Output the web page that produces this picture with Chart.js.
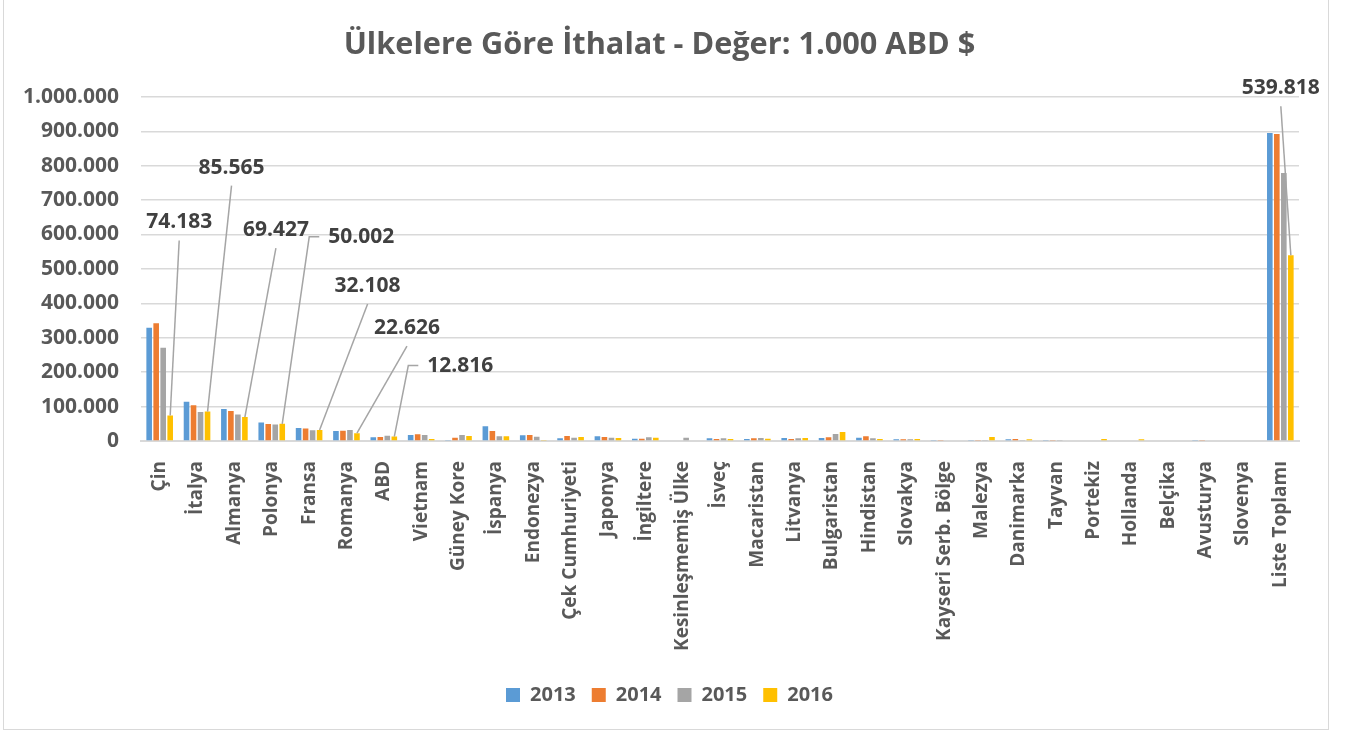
<!DOCTYPE html>
<html>
<head>
<meta charset="utf-8">
<script src="https://cdn.jsdelivr.net/npm/chart.js@4.4.1/dist/chart.umd.min.js"></script>
<style>
  html, body { margin: 0; padding: 0; background: #fff; }
  #wrap { position: relative; width: 1347px; height: 733px; }
  #frame { position: absolute; left: 3px; top: -2px; width: 1324px; height: 730px; border: 1.5px solid #d9d9d9; pointer-events: none; }
</style>
</head>
<body>
<div id="wrap">
  <canvas id="importChart" width="1347" height="733"></canvas>
  <div id="frame"></div>
</div>
<script>
// Data (1.000 ABD $)
const categories = ['Çin', 'İtalya', 'Almanya', 'Polonya', 'Fransa', 'Romanya', 'ABD', 'Vietnam', 'Güney Kore', 'İspanya',
  'Endonezya', 'Çek Cumhuriyeti', 'Japonya', 'İngiltere', 'Kesinleşmemiş Ülke', 'İsveç', 'Macaristan', 'Litvanya',
  'Bulgaristan', 'Hindistan', 'Slovakya', 'Kayseri Serb. Bölge', 'Malezya', 'Danimarka', 'Tayvan', 'Portekiz',
  'Hollanda', 'Belçika', 'Avusturya', 'Slovenya', 'Liste Toplamı'];

const years = ['2013', '2014', '2015', '2016'];

const v2013 = [329000, 114000, 93000, 54000, 38000, 29000, 10700, 17500, 2900, 42800, 16500, 7800, 13600, 6800, 0,
  7800, 5800, 8700, 8700, 9700, 4900, 2900, 2900, 4900, 2900, 1900, 1900, 1900, 2900, 0, 895000];
const v2014 = [342000, 104000, 87500, 49500, 36000, 30000, 11700, 19400, 9700, 29000, 17500, 14600, 11700, 6800, 0,
  5800, 7800, 5800, 10700, 13600, 4900, 2900, 2900, 5800, 2900, 1900, 1900, 0, 2900, 0, 892000];
const v2015 = [271000, 84000, 77000, 47600, 31000, 32000, 15500, 17500, 17500, 13600, 12600, 9700, 9700, 10700, 9700,
  7800, 8700, 7800, 20400, 7800, 4900, 0, 2900, 2900, 2900, 1900, 1900, 1900, 0, 1900, 779000];
const v2016 = [74183, 85565, 69427, 50002, 32108, 22626, 12816, 5800, 14600, 13600, 2900, 11700, 8700, 9700, 0,
  5800, 6800, 8700, 26200, 5800, 5800, 0, 11700, 4900, 0, 5800, 4900, 1900, 0, 0, 539818];

const yTicks = [0, 100000, 200000, 300000, 400000, 500000, 600000, 700000, 800000, 900000, 1000000];

// Which 2016 bars carry a callout label
const labelled = [0, 1, 2, 3, 4, 5, 6, 30];

const colors = ['#5B9BD5', '#ED7D31', '#A5A5A5', '#FFC000'];
const textColor = '#595959';

const fmt = v => String(Math.round(v)).replace(/\B(?=(\d{3})+(?!\d))/g, '.');

// Callout placement relative to bar top (pixels); elbow = short horizontal tick before label
const calloutStyle = {
  0: { dx: 9, dy: -193 },
  1: { dx: 24, dy: -244 },
  2: { dx: 31, dy: -187 },
  3: { dx: 79, dy: -187, elbow: true },
  4: { dx: 48, dy: -144 },
  5: { dx: 50, dy: -105 },
  6: { dx: 66, dy: -71, elbow: true },
  30: { dx: -10, dy: -167 }
};

const calloutPlugin = {
  id: 'callouts',
  afterLayout(chart) {
    // legend sits a little right of centre in the original
    chart.legend.left += 10;
    chart.legend.right += 10;
  },
  afterDatasetsDraw(chart) {
    const ctx = chart.ctx;
    const meta = chart.getDatasetMeta(3);
    ctx.save();
    ctx.font = 'bold 21px "Open Sans"';
    ctx.textAlign = 'center';
    ctx.textBaseline = 'middle';
    labelled.forEach(i => {
      const bar = meta.data[i];
      const st = calloutStyle[i];
      const txt = fmt(v2016[i]);
      const lx = bar.x + st.dx, ly = bar.y + st.dy;
      const w = ctx.measureText(txt).width;
      ctx.strokeStyle = '#A5A5A5';
      ctx.lineWidth = 1.5;
      ctx.beginPath();
      ctx.moveTo(bar.x, bar.y);
      if (st.elbow) {
        const left = lx - w / 2;
        ctx.lineTo(left - 19, ly);
        ctx.lineTo(left - 9, ly);
      } else {
        ctx.lineTo(lx, ly + 18);
      }
      ctx.stroke();
      ctx.fillStyle = '#404040';
      ctx.fillText(txt, lx, ly);
    });
    ctx.restore();
  }
};

const ctx = document.getElementById('importChart').getContext('2d');
const importChart = new Chart(ctx, {
  type: 'bar',
  data: {
    labels: categories,
    datasets: [v2013, v2014, v2015, v2016].map((d, k) => ({
      label: years[k],
      data: d,
      backgroundColor: colors[k],
      categoryPercentage: 0.75,
      barPercentage: 0.8
    }))
  },
  options: {
    responsive: false,
    animation: false,
    devicePixelRatio: 1,
    layout: { padding: { left: 20, right: 48, top: 0, bottom: 18 } },
    plugins: {
      title: {
        display: true,
        text: 'Ülkelere Göre İthalat - Değer: 1.000 ABD $',
        color: textColor,
        font: { family: 'Open Sans', size: 30.7, weight: 'bold' },
        padding: { top: 27, bottom: 33 }
      },
      legend: {
        position: 'bottom',
        labels: {
          color: textColor,
          font: { family: 'Open Sans', size: 20, weight: 'bold' },
          boxWidth: 14,
          boxHeight: 14,
          padding: 16
        }
      },
      tooltip: { enabled: false }
    },
    scales: {
      x: {
        grid: { display: false },
        border: { color: '#d9d9d9', width: 2 },
        ticks: {
          color: textColor,
          font: { family: 'Open Sans', size: 19, weight: 'bold' },
          minRotation: 90,
          maxRotation: 90,
          autoSkip: false,
          padding: 12
        },
        afterFit(scale) { scale.height = 228; }
      },
      y: {
        min: 0,
        max: 1000000,
        afterBuildTicks(scale) { scale.ticks = yTicks.map(v => ({ value: v })); },
        grid: { color: '#d9d9d9', lineWidth: 1.5, drawTicks: false },
        border: { display: false },
        ticks: {
          color: textColor,
          font: { family: 'Open Sans', size: 21, weight: 'bold' },
          padding: 22,
          callback: v => fmt(v)
        },
        afterFit(scale) { scale.width = 121; }
      }
    }
  },
  plugins: [calloutPlugin]
});
</script>
</body>
</html>
